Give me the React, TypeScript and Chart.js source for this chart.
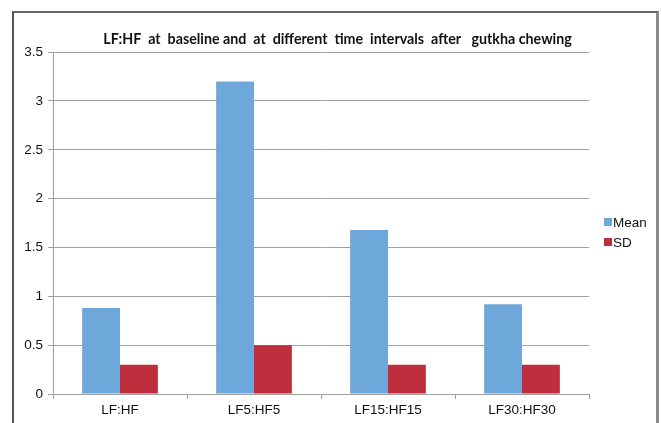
import React, { useEffect, useRef } from "react";
import { Chart, registerables } from "chart.js";

Chart.register(...registerables);

const TITLE = "LF:HF  at  baseline and  at  different  time  intervals  after   gutkha chewing";
const categories = ["LF:HF", "LF5:HF5", "LF15:HF15", "LF30:HF30"];
const meanValues = [0.88, 3.2, 1.68, 0.92];
const sdValues = [0.3, 0.5, 0.3, 0.3];
const seriesNames = ["Mean", "SD"];
const yMin = 0;
const yMax = 3.5;
const yStep = 0.5;

const MEAN_COLOR = "#6EA8DB";
const SD_COLOR = "#BE2E3C";
const GRID = "#A0A0A0";

const legendPlugin = {
  id: "sideLegend",
  afterDraw(chart: any) {
    const ctx = chart.ctx;
    ctx.save();
    ctx.font = "13.5px 'Liberation Sans', Arial, sans-serif";
    ctx.textBaseline = "middle";
    ctx.textAlign = "left";
    const x = 604;
    const y0 = 222;
    const gap = 20;
    chart.data.datasets.forEach((ds: any, i: number) => {
      const y = y0 + i * gap;
      ctx.fillStyle = ds.backgroundColor;
      ctx.fillRect(x, y - 4, 8, 8);
      ctx.fillStyle = "#111";
      ctx.fillText(ds.label, x + 9, y + 1);
    });
    ctx.restore();
  },
};

export default function App() {
  const ref = useRef<HTMLCanvasElement | null>(null);

  useEffect(() => {
    if (!ref.current) return;
    const chart = new Chart(ref.current, {
      type: "bar",
      data: {
        labels: categories,
        datasets: [
          { label: seriesNames[0], data: meanValues, backgroundColor: MEAN_COLOR },
          { label: seriesNames[1], data: sdValues, backgroundColor: SD_COLOR },
        ],
      },
      options: {
        responsive: false,
        animation: false,
        devicePixelRatio: 1,
        layout: { padding: { left: 14, top: 0, right: 0, bottom: 0 } },
        datasets: {
          bar: { categoryPercentage: 0.565, barPercentage: 1 },
        },
        plugins: {
          legend: { display: false },
          tooltip: { enabled: false },
          title: {
            display: true,
            text: TITLE,
            color: "#111",
            font: { family: "Lato, 'Liberation Sans', sans-serif", size: 14.25, weight: "bold" },
            padding: { top: 31, bottom: 4 },
          },
        },
        scales: {
          x: {
            grid: {
              display: true,
              drawOnChartArea: false,
              drawTicks: true,
              tickLength: 5,
              color: GRID,
              offset: true,
            },
            border: { display: true, color: GRID, width: 1 },
            ticks: {
              color: "#111",
              font: { family: "'Liberation Sans', Arial, sans-serif", size: 13.5 },
              padding: 3,
              maxRotation: 0,
            },
            afterFit: (s: any) => {
              s.height = 29;
            },
          },
          y: {
            min: yMin,
            max: yMax,
            grid: {
              color: GRID,
              lineWidth: 1,
              drawTicks: true,
              tickLength: 5,
            },
            border: { display: true, color: GRID, width: 1 },
            ticks: {
              stepSize: yStep,
              color: "#111",
              font: { family: "'Liberation Sans', Arial, sans-serif", size: 13.5 },
              padding: 5,
              callback: (v: any) => String(Number(v)),
            },
            afterFit: (s: any) => {
              s.width = 39;
            },
          },
          ySpace: {
            position: "right",
            min: yMin,
            max: yMax,
            grid: { display: false },
            border: { display: false },
            ticks: { display: false },
            afterFit: (s: any) => {
              s.width = 72;
            },
          },
        },
      },
      plugins: [legendPlugin],
    });
    return () => chart.destroy();
  }, []);

  return (
    <div style={{ position: "absolute", left: 0, top: 0, width: 661, height: 423, background: "#fff", overflow: "hidden" }}>
      <canvas ref={ref} width={661} height={423} style={{ display: "block" }} />
      <div
        style={{
          position: "absolute",
          left: 12,
          top: 11,
          width: 647,
          height: 412,
          boxSizing: "border-box",
          borderLeft: "2px solid #555",
          borderTop: "2px solid #666",
          borderRight: "3px solid #8a8a8a",
          pointerEvents: "none",
        }}
      />
    </div>
  );
}
